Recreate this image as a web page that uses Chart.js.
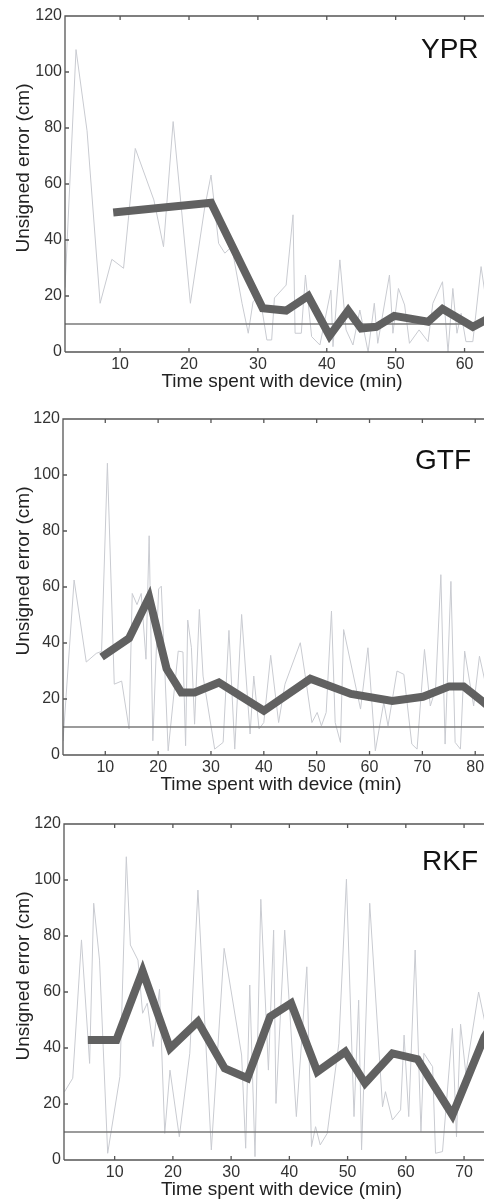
<!DOCTYPE html>
<html>
<head>
<meta charset="utf-8">
<style>
  html, body { margin: 0; padding: 0; background: #fff; overflow: hidden; width: 484px; height: 1201px; }
  .panel { position: absolute; left: 0; width: 500px; height: 400px; }
</style>
<script src="https://cdn.jsdelivr.net/npm/chart.js@4.4.0/dist/chart.umd.min.js"></script>
</head>
<body>
<div class="panel" style="top:0px"><canvas id="ypr" width="500" height="400"></canvas></div>
<div class="panel" style="top:403px"><canvas id="gtf" width="500" height="400"></canvas></div>
<div class="panel" style="top:808px"><canvas id="rkf" width="500" height="400"></canvas></div>
<script>
// y axis, shared by the three panels
const yTicks = [0, 20, 40, 60, 80, 100, 120];
const threshold = 10;

// YPR
const yprTicks = [10, 20, 30, 40, 50, 60];
const yprRawTime = [2.0, 3.6, 5.2, 7.1, 8.8, 10.5, 12.2, 14.9, 16.3, 17.7, 20.2, 22.3, 23.2, 24.3, 25.2, 26.2, 27.7, 28.6, 29.3, 30.3, 31.3, 32.0, 32.4, 34.1, 35.1, 35.4, 36.3, 36.9, 37.8, 39.0, 40.6, 40.9, 41.9, 42.8, 43.8, 44.8, 46.0, 46.9, 47.4, 49.1, 49.6, 50.4, 51.3, 52.0, 53.4, 54.7, 55.4, 56.8, 57.6, 58.3, 58.9, 59.5, 60.2, 61.2, 62.4, 63.5];
const yprRawErr = [23, 108, 79, 17.4, 33.1, 29.9, 72.7, 54.3, 37.6, 82.3, 17.4, 51.9, 63.2, 38.8, 35.3, 37.6, 17.4, 6.7, 18, 19.8, 4.3, 4.3, 19.3, 23.9, 49, 6.7, 6.7, 27.5, 5.5, 2.5, 22.1, 1.9, 32.9, 7.9, 2.5, 15, 0, 17.4, 3.1, 27.5, 6.7, 22.7, 16.8, 3.1, 7.9, 3.7, 17.4, 25.1, 0, 22.7, 6.7, 13.8, 3.7, 3.7, 30.5, 12];
const yprAvgTime = [9.0, 23.2, 30.7, 34.1, 37.3, 40.4, 43.1, 45.0, 47.2, 49.8, 54.7, 56.8, 61.2, 63.5];
const yprAvgErr = [49.8, 53.3, 15.6, 14.8, 20, 5.8, 14.8, 8.4, 9, 12.9, 10.8, 15.4, 9, 12];

// GTF
const gtfTicks = [10, 20, 30, 40, 50, 60, 70, 80];
const gtfRawTime = [2.0, 4.1, 6.4, 8.3, 9.3, 10.4, 11.7, 13.1, 14.5, 15.1, 16.0, 16.8, 17.7, 18.3, 19.0, 20.1, 20.6, 21.9, 23.8, 24.7, 25.2, 25.6, 26.3, 26.9, 27.8, 28.5, 30.7, 32.3, 33.4, 34.5, 35.8, 37.4, 38.1, 39.1, 40.0, 41.3, 42.8, 44.0, 46.9, 47.8, 49.1, 50.1, 50.9, 51.8, 52.8, 53.5, 54.5, 55.1, 58.3, 59.7, 61.1, 62.7, 63.5, 65.2, 66.5, 68.0, 69.0, 70.4, 71.5, 72.5, 73.5, 74.3, 75.4, 76.2, 77.2, 78.0, 79.7, 80.8, 82.0, 83.0];
const gtfRawErr = [5, 62.5, 33.2, 36.3, 37, 104.2, 25.3, 26.4, 9.3, 57.7, 53.7, 57.7, 34.2, 78.3, 5.1, 59.3, 60.3, 1.5, 37.1, 36.8, 3.3, 48.2, 38.3, 11, 52, 28.2, 2.1, 4.5, 44.5, 2.1, 50.2, 7.5, 28.2, 9.3, 11.6, 35.6, 11.6, 25.3, 40.1, 28.8, 11.6, 15.2, 10.4, 15.2, 51.4, 11.6, 4.5, 44.8, 16.4, 38.3, 1.5, 18.8, 10.4, 30, 28.8, 3.9, 2.1, 37.7, 17.5, 23.5, 64.4, 3.9, 62, 4.5, 2.1, 37.1, 17.5, 35.3, 25, 20];
const gtfAvgTime = [9.3, 14.5, 18.3, 21.6, 24.4, 26.9, 31.5, 40.0, 48.8, 56.5, 64.3, 70.1, 75.1, 77.8, 81.6, 84];
const gtfAvgErr = [35, 41.7, 56.3, 30.8, 22.3, 22.3, 25.9, 15.8, 27.2, 21.8, 19.3, 20.8, 24.5, 24.5, 18.8, 15];

// RKF
const rkfTicks = [10, 20, 30, 40, 50, 60, 70];
const rkfRawTime = [1.4, 2.8, 4.3, 5.7, 6.4, 7.4, 8.8, 10.9, 12.0, 12.7, 14.0, 14.8, 15.6, 16.6, 17.7, 18.6, 19.5, 21.1, 22.9, 24.3, 26.6, 28.8, 31.8, 32.5, 33.2, 34.1, 35.1, 36.4, 37.3, 37.7, 39.2, 41.2, 43.0, 43.8, 44.5, 45.3, 46.5, 48.5, 49.8, 51.1, 51.9, 52.4, 53.8, 56.0, 56.5, 57.7, 59.1, 59.7, 60.5, 61.6, 62.6, 63.1, 64.6, 65.1, 66.3, 68.0, 68.7, 69.4, 70.3, 72.5, 74.0, 75.5];
const rkfRawErr = [24.4, 29.2, 78.6, 34.5, 91.7, 71.4, 2.4, 29.8, 108.3, 76.8, 71.4, 52.4, 56, 40.5, 61, 9.5, 32.1, 8.3, 38.1, 96.4, 3.6, 75.6, 37.5, 4.2, 62.5, 1.2, 93.1, 32.1, 82.1, 20.2, 82.1, 15.5, 69, 4.8, 11.9, 5.4, 9.5, 41.7, 100.3, 15.5, 57.1, 3.6, 91.7, 19, 24.4, 14.3, 17.9, 44.6, 15.5, 75, 10.1, 38.1, 33.3, 2.4, 3, 47, 8.3, 48.5, 31, 60, 45, 30];
const rkfAvgTime = [5.4, 10.3, 14.8, 19.5, 24.3, 28.9, 32.8, 36.7, 40.3, 44.8, 49.6, 53.0, 57.7, 62.0, 68.0, 73.5, 76];
const rkfAvgErr = [42.9, 42.9, 67.5, 39.9, 49.4, 32.7, 29.2, 51.2, 56, 31.5, 38.7, 27.4, 38.1, 36, 16.1, 44, 52];

const FONT = "'Liberation Sans', Arial, Helvetica, sans-serif";
const axisColor = '#555555';

function pts(t, e) {
  return t.map((v, i) => ({ x: v, y: e[i] }));
}

// frame with inward ticks, axis titles and panel name
const framePlugin = {
  id: 'frame',
  afterDraw(chart, args, o) {
    const { ctx, chartArea: a, scales: { x, y } } = chart;
    ctx.save();
    ctx.strokeStyle = axisColor;
    ctx.lineWidth = 1.3;
    ctx.beginPath();
    ctx.moveTo(a.left, a.bottom);
    ctx.lineTo(a.left, a.top);
    ctx.lineTo(a.right + 20, a.top);
    ctx.moveTo(a.left, a.bottom);
    ctx.lineTo(a.right + 20, a.bottom);
    x.ticks.forEach(t => {
      const px = x.getPixelForValue(t.value);
      ctx.moveTo(px, a.bottom);
      ctx.lineTo(px, a.bottom - 4);
      ctx.moveTo(px, a.top);
      ctx.lineTo(px, a.top + 4);
    });
    y.ticks.forEach(t => {
      const py = y.getPixelForValue(t.value);
      ctx.moveTo(a.left, py);
      ctx.lineTo(a.left + 4, py);
    });
    ctx.stroke();

    ctx.fillStyle = '#222';
    ctx.font = '19px ' + FONT;
    ctx.textAlign = 'center';
    ctx.textBaseline = 'alphabetic';
    ctx.fillText('Time spent with device (min)', (a.left + a.right) / 2, 387);
    ctx.save();
    ctx.translate(29, (a.top + a.bottom) / 2 - 16);
    ctx.rotate(-Math.PI / 2);
    ctx.fillText('Unsigned error (cm)', 0, 0);
    ctx.restore();

    ctx.fillStyle = '#111';
    ctx.font = '28px ' + FONT;
    ctx.textAlign = 'left';
    ctx.fillText(o.label, o.labelX, o.labelY);
    ctx.restore();
  }
};

function makePanel(id, p) {
  new Chart(document.getElementById(id), {
    type: 'line',
    data: {
      datasets: [
        {
          data: pts(p.avgT, p.avgE),
          borderColor: '#616161',
          borderWidth: 8,
          borderJoinStyle: 'miter',
          pointRadius: 0,
          tension: 0
        },
        {
          data: [{ x: p.xMin, y: threshold }, { x: p.xMax, y: threshold }],
          borderColor: '#7a7a7a',
          borderWidth: 1.3,
          pointRadius: 0
        },
        {
          data: pts(p.rawT, p.rawE),
          borderColor: '#c9cbd1',
          borderWidth: 1,
          pointRadius: 0,
          tension: 0
        }
      ]
    },
    options: {
      responsive: false,
      animation: false,
      layout: { padding: { top: 16, right: 1, left: 0, bottom: 0 } },
      scales: {
        x: {
          type: 'linear',
          min: p.xMin,
          max: p.xMax,
          grid: { display: false, drawTicks: false },
          border: { display: false },
          ticks: { color: '#333', font: { family: FONT, size: 16 }, padding: 3 },
          afterBuildTicks: s => { s.ticks = p.xTicks.map(v => ({ value: v })); },
          afterFit: s => { s.height = 48; }
        },
        y: {
          min: 0,
          max: 120,
          grid: { display: false, drawTicks: false },
          border: { display: false },
          ticks: { color: '#333', font: { family: FONT, size: 16 }, padding: 3 },
          afterBuildTicks: s => { s.ticks = yTicks.map(v => ({ value: v })); },
          afterFit: s => { s.width = p.left; }
        }
      },
      plugins: {
        legend: { display: false },
        tooltip: { enabled: false },
        frame: { label: p.label, labelX: p.labelX, labelY: p.labelY }
      }
    },
    plugins: [framePlugin]
  });
}

makePanel('ypr', {
  rawT: yprRawTime, rawE: yprRawErr, avgT: yprAvgTime, avgE: yprAvgErr,
  xMin: 2, xMax: 65, xTicks: yprTicks, left: 65,
  label: 'YPR', labelX: 421, labelY: 58
});
makePanel('gtf', {
  rawT: gtfRawTime, rawE: gtfRawErr, avgT: gtfAvgTime, avgE: gtfAvgErr,
  xMin: 2, xMax: 84.5, xTicks: gtfTicks, left: 63,
  label: 'GTF', labelX: 415, labelY: 66
});
makePanel('rkf', {
  rawT: rkfRawTime, rawE: rkfRawErr, avgT: rkfAvgTime, avgE: rkfAvgErr,
  xMin: 1.3, xMax: 76, xTicks: rkfTicks, left: 64,
  label: 'RKF', labelX: 422, labelY: 62
});
</script>
</body>
</html>
